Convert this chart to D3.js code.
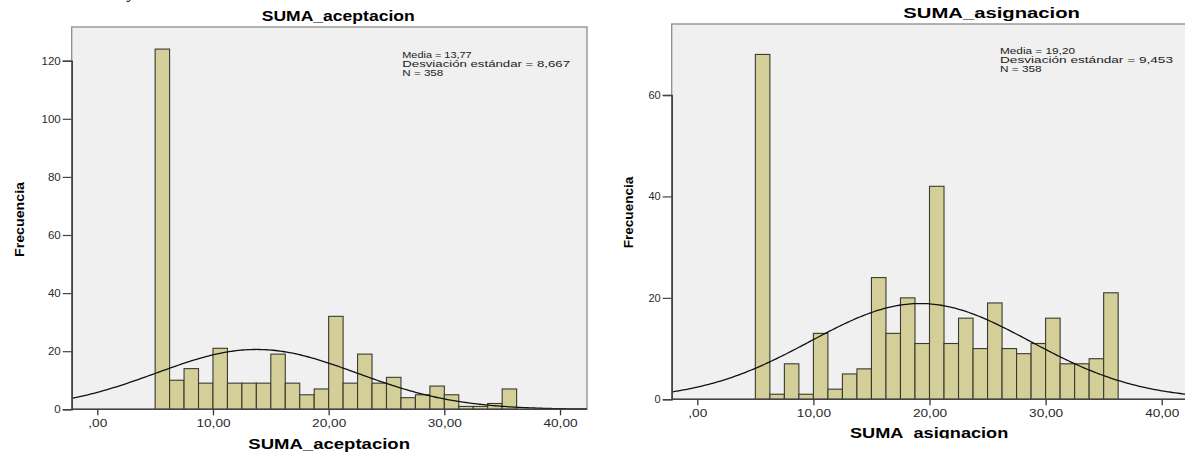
<!DOCTYPE html>
<html>
<head>
<meta charset="utf-8">
<script src="https://cdn.jsdelivr.net/npm/d3@7"></script>
<style>
body { margin: 0; background: #fff; }
svg { display: block; font-family: "Liberation Sans", Arial, sans-serif; }
</style>
</head>
<body>
<svg id="chart" width="1185" height="457"></svg>
<script>
// histogram bins: both variables use bins of 1.25 starting at 5
let bin_start = 5;
let bin_width = 1.25;

let acept_counts = [124, 10, 14, 9, 21, 9, 9, 9, 19, 9, 5, 7, 32, 9, 19, 9, 11, 4, 5, 8, 5, 1, 1, 2, 7];
let asig_counts = [68, 1, 7, 1, 13, 2, 5, 6, 24, 13, 20, 11, 42, 11, 16, 10, 19, 10, 9, 11, 16, 7, 7, 8, 21];

let acept_stats = [13.77, 8.667, 358];
let asig_stats = [19.20, 9.453, 358];

let acept_stat_labels = ['Media = 13,77', 'Desviación estándar = 8,667', 'N = 358'];
let asig_stat_labels = ['Media = 19,20', 'Desviación estándar = 9,453', 'N = 358'];

let x_ticks = [0, 10, 20, 30, 40];
let x_tick_labels = [',00', '10,00', '20,00', '30,00', '40,00'];
let acept_y_ticks = [0, 20, 40, 60, 80, 100, 120];
let asig_y_ticks = [0, 20, 40, 60];

let svg = d3.select('#chart');

// little cut-off glyph from the page text above the figure
svg.append('text')
    .attr('x', 128).attr('y', -2)
    .attr('font-family', '"Liberation Serif", serif')
    .attr('font-style', 'italic')
    .attr('font-size', 17)
    .text('y');

function draw_hist(cfg) {
    let g = svg.append('g');

    let x = d3.scaleLinear().domain([0, 40]).range([cfg.x0, cfg.x40]);
    let y = d3.scaleLinear().domain([0, cfg.ytop]).range([cfg.bottom, cfg.ytopPx]);

    let clipId = 'clip' + cfg.id;
    g.append('clipPath').attr('id', clipId)
        .append('rect')
        .attr('x', cfg.left).attr('y', cfg.top)
        .attr('width', cfg.right - cfg.left).attr('height', cfg.bottom - cfg.top);

    g.append('rect')
        .attr('x', cfg.left).attr('y', cfg.top)
        .attr('width', cfg.right - cfg.left).attr('height', cfg.bottom - cfg.top)
        .attr('fill', '#f0f0f0')
        .attr('stroke', '#8c8c8c')
        .attr('stroke-width', 1.3);

    g.append('g')
        .selectAll('rect')
        .data(cfg.counts)
        .join('rect')
        .attr('x', (d, i) => x(bin_start + i * bin_width))
        .attr('width', x(bin_width) - x(0))
        .attr('y', d => y(d))
        .attr('height', d => cfg.bottom - y(d))
        .attr('fill', '#d4cf99')
        .attr('stroke', '#3a3a30')
        .attr('stroke-width', 1.1);

    // normal curve scaled to the histogram
    let mean = cfg.stats[0], sd = cfg.stats[1], n = cfg.stats[2];
    let xs = d3.range(x.invert(cfg.left), x.invert(cfg.right) + 0.2, 0.2);
    let line = d3.line()
        .curve(d3.curveBasis)
        .x(d => x(d))
        .y(d => y(n * bin_width * Math.exp(-0.5 * Math.pow((d - mean) / sd, 2)) / (sd * Math.sqrt(2 * Math.PI))));
    g.append('path')
        .attr('clip-path', 'url(#' + clipId + ')')
        .attr('d', line(xs))
        .attr('fill', 'none')
        .attr('stroke', '#111')
        .attr('stroke-width', 1.3);

    // axes
    let ya = g.append('g')
        .attr('transform', `translate(${cfg.left},0)`)
        .call(d3.axisLeft(y).tickValues(cfg.yTicks).tickSize(9).tickPadding(2).tickFormat(d => d));
    ya.select('.domain').attr('stroke', '#444').attr('stroke-width', 1.6);
    ya.selectAll('.tick line').attr('stroke', '#444').attr('stroke-width', 1.2);
    ya.selectAll('.tick text')
        .attr('font-family', '"Liberation Sans", Arial, sans-serif')
        .attr('font-size', cfg.tickFont)
        .attr('fill', '#2a2a2a');

    let xa = g.append('g')
        .attr('transform', `translate(0,${cfg.bottom})`)
        .call(d3.axisBottom(x).tickValues(x_ticks).tickSize(6).tickPadding(4).tickFormat((d, i) => x_tick_labels[i]));
    xa.select('.domain').remove();
    g.append('line')
        .attr('x1', cfg.left).attr('x2', cfg.right)
        .attr('y1', cfg.bottom).attr('y2', cfg.bottom)
        .attr('stroke', '#444').attr('stroke-width', 1.6);
    xa.selectAll('.tick line').attr('stroke', '#333').attr('stroke-width', 1.3);
    xa.selectAll('.tick text')
        .attr('font-family', '"Liberation Sans", Arial, sans-serif')
        .attr('font-size', 10.5)
        .attr('fill', '#2a2a2a')
        .attr('transform', 'scale(1.3,1)');

    // titles
    g.append('text')
        .attr('x', cfg.titleX).attr('y', cfg.titleY)
        .attr('font-size', cfg.titleFont).attr('font-weight', 'bold')
        .attr('textLength', cfg.titleW).attr('lengthAdjust', 'spacingAndGlyphs')
        .text(cfg.title);

    g.append('text')
        .attr('x', cfg.xTitleX).attr('y', cfg.xTitleY)
        .attr('font-size', 15).attr('font-weight', 'bold')
        .attr('textLength', cfg.xTitleW).attr('lengthAdjust', 'spacingAndGlyphs')
        .text(cfg.title);

    g.append('text')
        .attr('transform', `translate(${cfg.yTitleX},${cfg.yTitleY}) rotate(-90)`)
        .attr('text-anchor', 'middle')
        .attr('font-size', 13).attr('font-weight', 'bold')
        .attr('textLength', cfg.yTitleW).attr('lengthAdjust', 'spacingAndGlyphs')
        .text('Frecuencia');

    // stats box text
    g.append('g')
        .selectAll('text')
        .data(cfg.statLabels)
        .join('text')
        .attr('x', cfg.statX)
        .attr('y', (d, i) => cfg.statY + i * cfg.statDy)
        .attr('font-size', cfg.statFont)
        .attr('fill', '#222')
        .attr('textLength', (d, i) => cfg.statW[i])
        .attr('lengthAdjust', 'spacingAndGlyphs')
        .text(d => d);
}

draw_hist({
    id: 'a', counts: acept_counts, stats: acept_stats, statLabels: acept_stat_labels,
    title: 'SUMA_aceptacion', yTicks: acept_y_ticks,
    left: 71.7, right: 587, top: 27, bottom: 409.3,
    x0: 97.3, x40: 560, ytop: 120, ytopPx: 60.7, tickFont: 11.5,
    titleX: 261.7, titleY: 20.7, titleW: 153, titleFont: 15,
    xTitleX: 248.3, xTitleY: 449, xTitleW: 161.7,
    yTitleX: 24, yTitleY: 219.5, yTitleW: 75,
    statX: 402.3, statY: 57.5, statDy: 9.3, statFont: 9.5, statW: [69.3, 167.7, 41]
});

draw_hist({
    id: 'b', counts: asig_counts, stats: asig_stats, statLabels: asig_stat_labels,
    title: 'SUMA_asignacion', yTicks: asig_y_ticks,
    left: 671.7, right: 1190, top: 24, bottom: 399.3,
    x0: 697.3, x40: 1161.7, ytop: 60, ytopPx: 95, tickFont: 11,
    titleX: 903.3, titleY: 18.3, titleW: 176.7, titleFont: 14,
    xTitleX: 850, xTitleY: 438.3, xTitleW: 158.3,
    yTitleX: 633, yTitleY: 212.5, yTitleW: 71.7,
    statX: 1000, statY: 54.3, statDy: 8.6, statFont: 9, statW: [75, 173, 41.7]
});

// the right figure is cut just below its axis title
svg.append('rect')
    .attr('x', 600).attr('y', 438.6)
    .attr('width', 585).attr('height', 20)
    .attr('fill', '#fff');
</script>
</body>
</html>
